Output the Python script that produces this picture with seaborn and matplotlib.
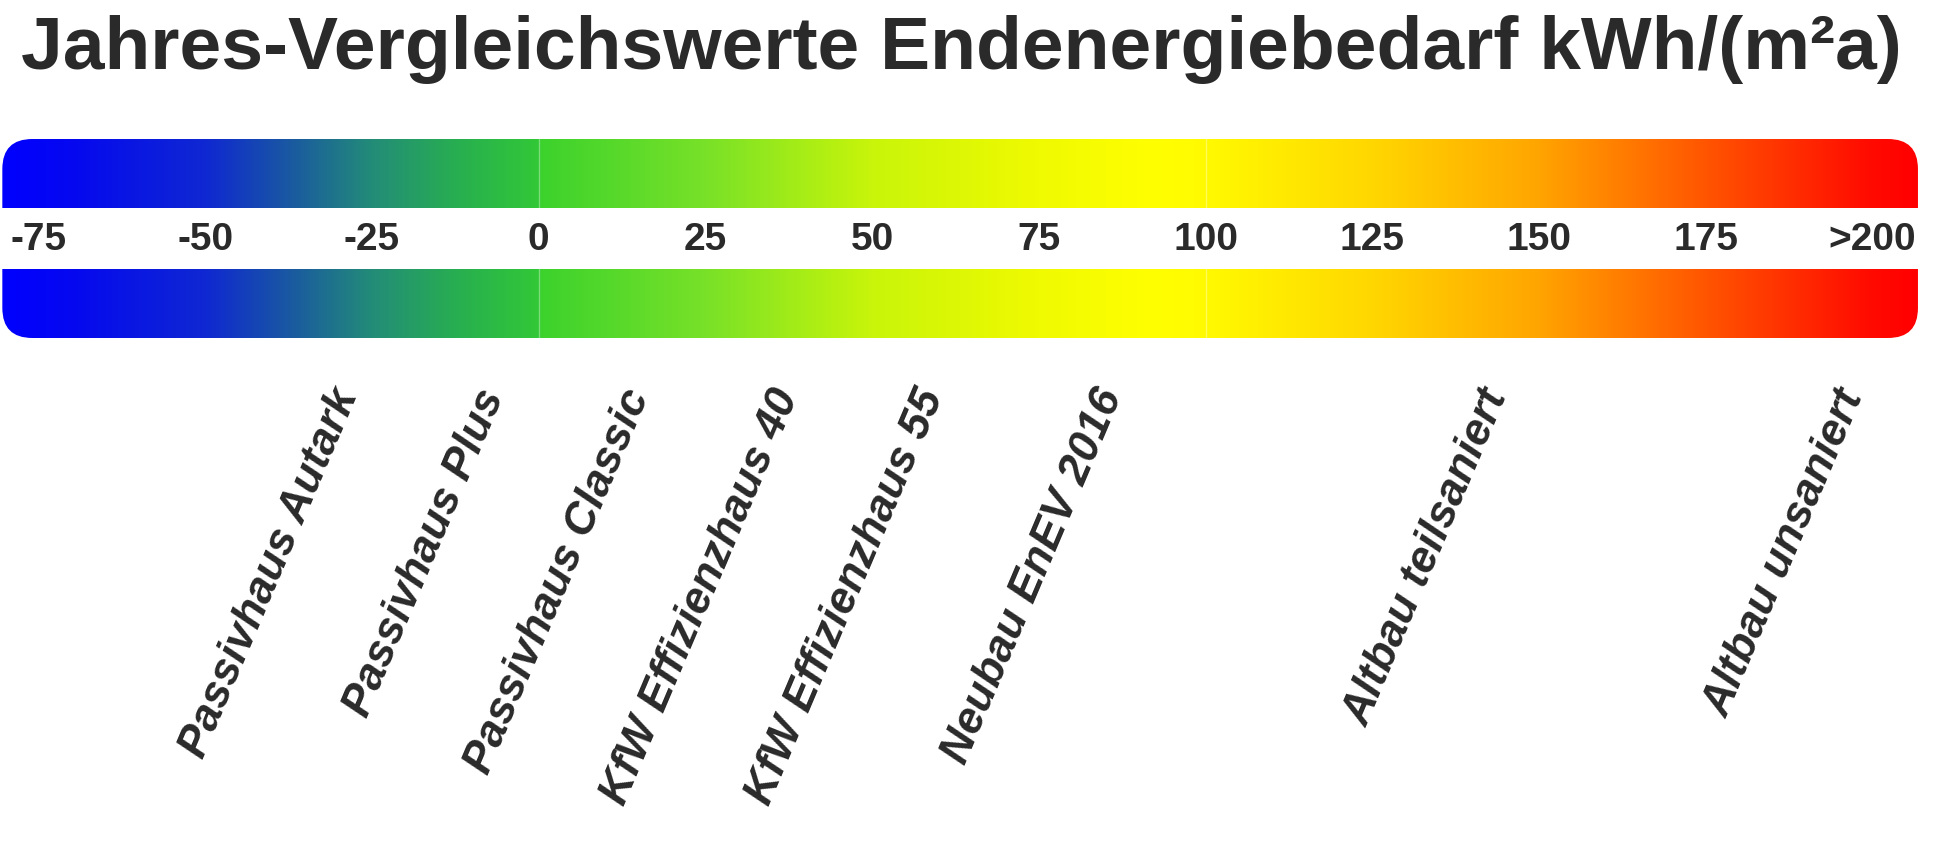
import numpy as np
import matplotlib
matplotlib.use("Agg")
import matplotlib.pyplot as plt
import seaborn as sns
from matplotlib.colors import LinearSegmentedColormap
from matplotlib.patches import FancyBboxPatch, Rectangle

# ---------------- data ----------------
title = "Jahres-Vergleichswerte Endenergiebedarf kWh/(m²a)"
tick_values = [-75, -50, -25, 0, 25, 50, 75, 100, 125, 150, 175, 200]
tick_labels = ["-75", "-50", "-25", "0", "25", "50", "75", "100", "125", "150", "175", ">200"]
house_names = ["Passivhaus Autark", "Passivhaus Plus", "Passivhaus Classic",
               "KfW Effizienzhaus 40", "KfW Effizienzhaus 55", "Neubau EnEV 2016",
               "Altbau teilsaniert", "Altbau unsaniert"]
house_values = [-28.7, -6.7, 15.0, 37.4, 59.2, 86.0, 143.8, 197.2]
scale_min, scale_max = -80.4, 206.8
stop_values = [-80.4, -70, -50, -37, -25, -12, 0, 0.3, 25, 50, 75, 92, 100, 125, 150, 175, 200, 206.8]
stop_colors = ["#0000ff", "#0508f0", "#0f28d2", "#1a5aa0", "#238c78", "#28af50", "#32c837",
               "#3cd22d", "#78e128", "#c8f50a", "#f0fa00", "#ffff00", "#fffa00", "#ffd700",
               "#ffa500", "#ff5500", "#ff0a00", "#ff0000"]

# ---------------- style ----------------
sns.set_theme(style="white")
plt.rcParams["font.family"] = ["Liberation Sans", "DejaVu Sans"]
text_color = "#2a2a2a"

W, H = 1946, 857
fig = plt.figure(figsize=(W / 100, H / 100), dpi=100)
ax = fig.add_axes([0, 0, 1, 1])
px0, ppu = 538.6, 6.67  # pixel of value 0, pixels per unit
ax.set_xlim(-px0 / ppu, (W - px0) / ppu)
ax.set_ylim(H, 0)
ax.set_axis_off()

# gradient colormap
pos = [(v - scale_min) / (scale_max - scale_min) for v in stop_values]
cmap = LinearSegmentedColormap.from_list("energy", list(zip(pos, stop_colors)), N=1024)
grad = np.linspace(0, 1, 1024)[None, :]
bar_top, bar_bot = 139, 338
im = ax.imshow(grad, cmap=cmap, aspect="auto",
               extent=[scale_min, scale_max, bar_bot, bar_top], zorder=1)
r = 4.5
clip = FancyBboxPatch((scale_min, bar_top), scale_max - scale_min, bar_bot - bar_top,
                      boxstyle=f"round,pad=0,rounding_size={r}", mutation_aspect=ppu,
                      transform=ax.transData, facecolor="none", edgecolor="none")
ax.add_patch(clip)
im.set_clip_path(clip)

# white band through the middle
ax.add_patch(Rectangle((scale_min - 1, 208), scale_max - scale_min + 2, 61,
                       facecolor="white", edgecolor="none", zorder=2))
# faint segment separators
for v in [0, 100]:
    ax.plot([v, v], [bar_top, 208], color="white", alpha=0.35, lw=1, zorder=2)
    ax.plot([v, v], [269, bar_bot], color="white", alpha=0.35, lw=1, zorder=2)

# tick labels
for v, lab in zip(tick_values, tick_labels):
    ax.text(v, 240, lab, ha="center", va="center", fontsize=28, fontweight="bold",
            color=text_color, zorder=3)

# house labels
for v, name in zip(house_values, house_names):
    ax.text(v, 391, name, ha="right", va="center", rotation=67, rotation_mode="anchor",
            fontsize=32, fontweight="bold", fontstyle="italic", color=text_color, zorder=3)

# title
fig.text(961 / W, 1 - 50 / H, title, ha="center", va="center", fontsize=54,
         fontweight="bold", color=text_color)

fig.savefig("out.png", dpi=100, facecolor="white")
